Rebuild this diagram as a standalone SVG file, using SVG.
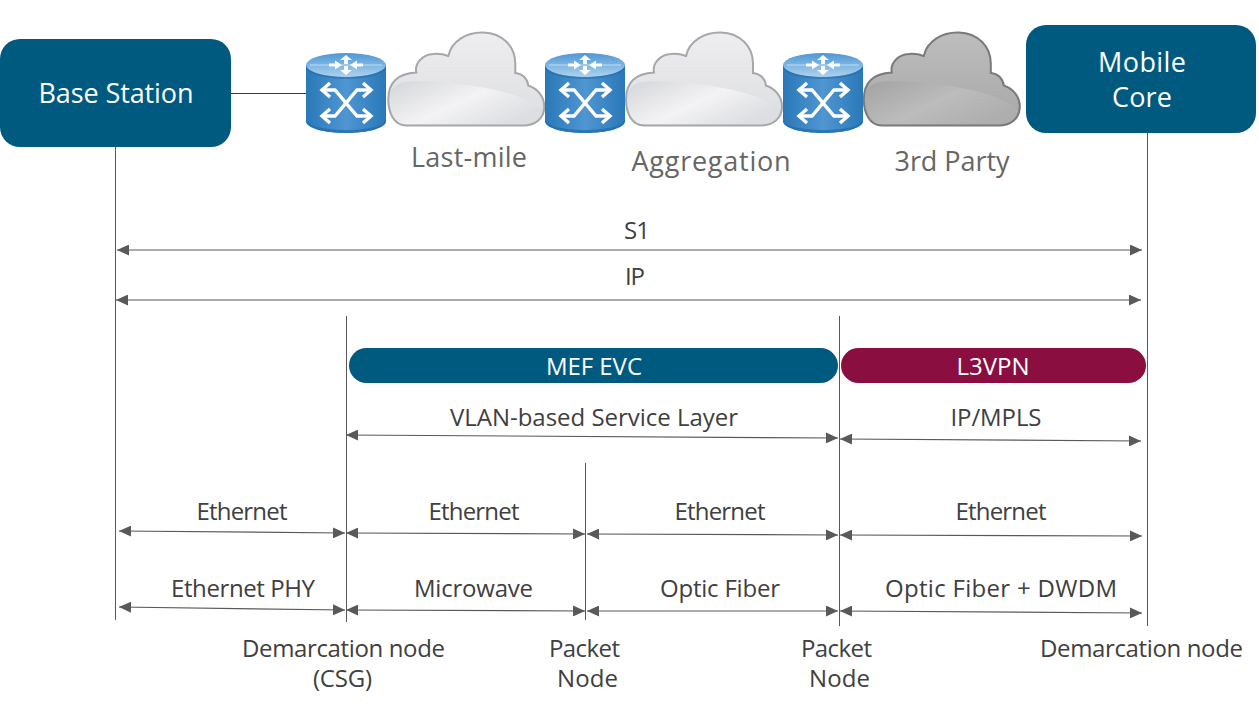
<svg xmlns="http://www.w3.org/2000/svg" width="1259" height="707" viewBox="0 0 1259 707">
<style>
text{font-family:"Open Sans","Noto Sans","Liberation Sans",sans-serif;text-anchor:middle;font-size:24px;fill:#404040}
.w{fill:#fff}
.big{font-size:27px;fill:#fff}
.cl{font-size:27px;fill:#666}
.v{stroke:#595959;stroke-width:1;fill:none}
.link{stroke:#00506f;stroke-width:1;fill:none}
.a{stroke:#595959;stroke-width:1.2;fill:none;marker-start:url(#ah);marker-end:url(#ah)}
.box{fill:#005a7f}
</style>
<defs>
<marker id="ah" viewBox="0 0 12 11" refX="12" refY="5.500" markerWidth="12" markerHeight="11" markerUnits="userSpaceOnUse" orient="auto-start-reverse"><path d="M0 0L12 5.500L0 11Z" fill="#595959"/></marker>
<linearGradient id="rb" x1="0" x2="1" y1="0" y2="0"><stop offset="0" stop-color="#2a78b8"/><stop offset=".5" stop-color="#4f96d2"/><stop offset="1" stop-color="#2a78b8"/></linearGradient>
<linearGradient id="rt" x1="0" x2="0" y1="0" y2="1"><stop offset="0" stop-color="#4d97d6"/><stop offset="1" stop-color="#aed2ee"/></linearGradient>
<linearGradient id="cw" x1="0" x2="0" y1="0" y2="1"><stop offset="0" stop-color="#eeeef0"/><stop offset="1" stop-color="#dcdde0"/></linearGradient>
<linearGradient id="cw2" x1="0" x2="1" y1="0" y2="0.600"><stop offset="0" stop-color="#d4d5d8"/><stop offset=".55" stop-color="#f3f3f5"/><stop offset="1" stop-color="#dddee1"/></linearGradient>
<linearGradient id="cg" x1="0" x2="0" y1="0" y2="1"><stop offset="0" stop-color="#bdbdbd"/><stop offset="1" stop-color="#a8a8a8"/></linearGradient>
<linearGradient id="cg2" x1="0" x2="1" y1="0" y2="0.600"><stop offset="0" stop-color="#a2a2a2"/><stop offset=".55" stop-color="#bcbcbc"/><stop offset="1" stop-color="#aeaeae"/></linearGradient>
<g id="router">
<path d="M0 12V68C0 75 18 80 40 80S80 75 80 68V12Z" fill="url(#rb)"/>
<path d="M0 68C0 75 18 80 40 80S80 75 80 68V66C80 73 62 77 40 77S0 73 0 66Z" fill="#1f6aa8" opacity=".7"/>
<ellipse cx="40" cy="12" rx="40" ry="12" fill="url(#rt)"/>
<path d="M0 12C0 19 18 24 40 24S80 19 80 12V14C80 21 62 26 40 26S0 21 0 14Z" fill="#1f6aa8" opacity=".5"/>
<path d="M4 12H76" stroke="#d8e9f7" stroke-width="1.200" opacity=".75" fill="none"/>
<g fill="#fff" opacity=".95">
<path d="M40 2L46 7H42V11H38V7H34Z"/><path d="M40 22L46 17H42V13H38V17H34Z"/>
<path d="M36 12L29 7.500V10.500H23V13.500H29V16.500Z"/><path d="M44 12L51 7.500V10.500H57V13.500H51V16.500Z"/>
</g>
<g fill="none" stroke="#fff" stroke-width="3.400">
<path d="M17 37H29L51 63H64"/><path d="M17 63H29L51 37H64"/>
<path d="M24 30L16 37L24 44M24 56L16 63L24 70M57 30L65 37L57 44M57 56L65 63L57 70"/>
</g>
</g>
<path id="cloudOut" d="M19 94C7 94 1 82 1 68C1 52 10 42 29 41C27 31 36 23 46 22.500C52 22 57 23 61 24.500C64 10 79 .5 96 1C115 1.500 128 15 128 32C128 36 128 39 128 41.500C135 42 140 47 141 54C150 57 157 65 157 75C157 87 148 94 136 94Z"/>
<path id="cloudLow" d="M2 66C3 56 10 50.500 22 50C50 49 80 53 98 56.500C118 60 140 66 156 79C155 87 147 93 136 93H19C8 93 3 82 2 66Z"/>
</defs>

<g id="connectors">
<path class="link" d="M231 93.500H306"/>
<path class="v" d="M115.500 147V620M1147.500 133V626M346.500 316V622M839.500 316V626M585.500 463V620"/>
<path class="a" d="M117 250H1142"/>
<path class="a" d="M116 300H1141"/>
<path class="a" d="M346 435L838 438"/>
<path class="a" d="M840 439L1141 441"/>
<path class="a" d="M119 531L345 533"/>
<path class="a" d="M346 533L585 534"/>
<path class="a" d="M587 534L838 535"/>
<path class="a" d="M840 535L1142 536"/>
<path class="a" d="M119 607L345 610"/>
<path class="a" d="M346 610L585 611"/>
<path class="a" d="M587 611L838 611"/>
<path class="a" d="M840 611L1142 613"/>
</g>

<g id="base-station"><rect class="box" x="0" y="39" width="231" height="108" rx="20"/><text class="big" x="116" y="103" textLength="155">Base Station</text></g>
<g id="mobile-core"><rect class="box" x="1026" y="25" width="230" height="108" rx="20"/><text class="big" x="1142" y="72" textLength="88">Mobile</text><text class="big" x="1142" y="107" textLength="60">Core</text></g>

<g id="router-1"><use href="#router" x="306" y="53"/></g>
<g id="cloud-last-mile" transform="translate(387.300 31.500)"><use href="#cloudOut" fill="url(#cw)"/><use href="#cloudLow" fill="url(#cw2)"/><use href="#cloudOut" fill="none" stroke="#a6a7ab" stroke-width="2"/></g>
<text x="469" y="167" class="cl" textLength="116">Last-mile</text>
<g id="router-2"><use href="#router" x="545" y="53"/></g>
<g id="cloud-aggregation" transform="translate(625 31.500)"><use href="#cloudOut" fill="url(#cw)"/><use href="#cloudLow" fill="url(#cw2)"/><use href="#cloudOut" fill="none" stroke="#a6a7ab" stroke-width="2"/></g>
<text x="711" y="171" class="cl" textLength="159">Aggregation</text>
<g id="router-3"><use href="#router" x="783" y="53"/></g>
<g id="cloud-3rd-party" transform="translate(862.800 31.500)"><use href="#cloudOut" fill="url(#cg)"/><use href="#cloudLow" fill="url(#cg2)"/><use href="#cloudOut" fill="none" stroke="#7a7a7a" stroke-width="2"/></g>
<text x="952" y="171" class="cl" textLength="115">3rd Party</text>

<text x="637" y="239" textLength="26">S1</text>
<text x="635" y="285" textLength="20">IP</text>

<g id="mef-evc"><rect class="box" x="349" y="348" width="489" height="35" rx="17.500"/><text class="w" x="594" y="375" textLength="96">MEF EVC</text></g>
<g id="l3vpn"><rect x="841" y="348" width="305" height="35" rx="17.500" fill="#8a0f40"/><text class="w" x="993" y="375" textLength="73">L3VPN</text></g>

<text x="594" y="426" textLength="288">VLAN-based Service Layer</text>
<text x="996" y="426" textLength="91">IP/MPLS</text>
<text x="242" y="520" textLength="91">Ethernet</text>
<text x="474" y="520" textLength="91">Ethernet</text>
<text x="720" y="520" textLength="91">Ethernet</text>
<text x="1001" y="520" textLength="91">Ethernet</text>
<text x="243" y="597" textLength="144">Ethernet PHY</text>
<text x="473.500" y="597" textLength="119">Microwave</text>
<text x="720" y="597" textLength="120">Optic Fiber</text>
<text x="1001" y="597" textLength="232">Optic Fiber + DWDM</text>
<text x="343.500" y="657" textLength="203">Demarcation node</text>
<text x="342.500" y="687" textLength="59">(CSG)</text>
<text x="584.500" y="657" textLength="71">Packet</text>
<text x="587.500" y="687" textLength="61">Node</text>
<text x="836.500" y="657" textLength="71">Packet</text>
<text x="839.500" y="687" textLength="61">Node</text>
<text x="1141.500" y="657" textLength="203">Demarcation node</text>
</svg>
